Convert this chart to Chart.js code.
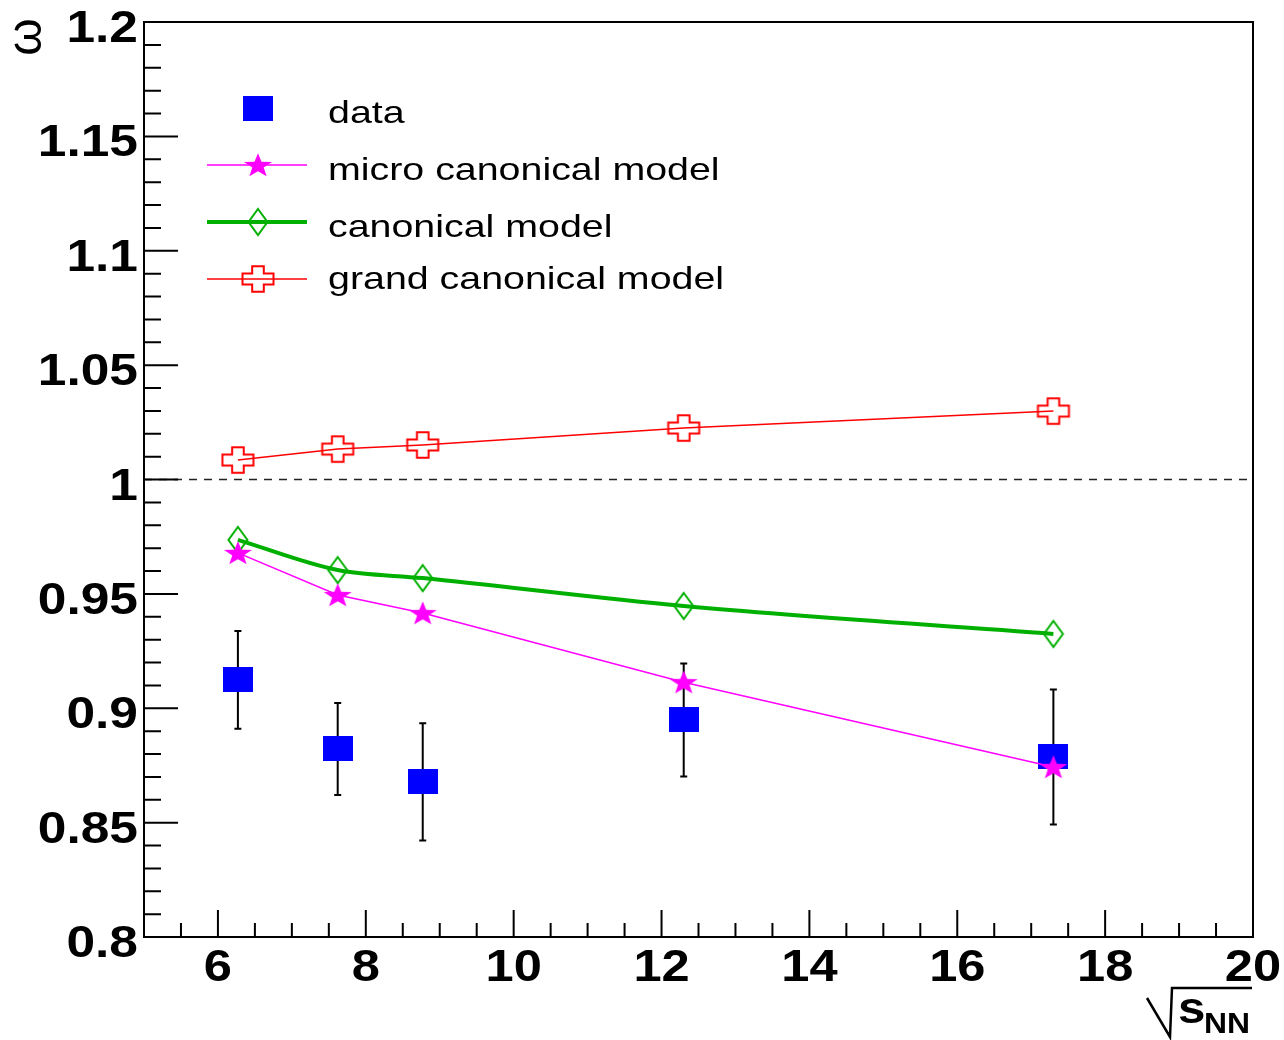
<!DOCTYPE html>
<html>
<head>
<meta charset="utf-8">
<script src="https://cdn.jsdelivr.net/npm/chart.js@4.4.0/dist/chart.umd.min.js"></script>
<style>
  html, body { margin: 0; padding: 0; background: #fff; }
  canvas { display: block; }
</style>
</head>
<body>
<canvas id="omegaChart" width="1284" height="1040"></canvas>
<script>
// ------------------------------------------------------------
// scaled variance omega vs sqrt(s_NN), data + three HRG ensembles
// ------------------------------------------------------------

const energies       = [6.27, 7.62, 8.77, 12.3, 17.3];
const dataOmega      = [0.9124, 0.8822, 0.8678, 0.8949, 0.8787];
const dataError      = [0.0214, 0.0201, 0.0256, 0.0247, 0.0295];
const microOmega     = [0.9679, 0.9495, 0.9416, 0.9114, 0.8743];
const canonicalOmega = [0.9736, 0.9604, 0.9569, 0.9447, 0.9325];
const grandOmega     = [1.0085, 1.0133, 1.0151, 1.0225, 1.0299];

const seriesLabels = ['data', 'micro canonical model', 'canonical model', 'grand canonical model'];
const xTickValues  = [6, 8, 10, 12, 14, 16, 18, 20];
const xTickLabels  = ['6', '8', '10', '12', '14', '16', '18', '20'];
const yTickValues  = [0.8, 0.85, 0.9, 0.95, 1, 1.05, 1.1, 1.15, 1.2];
const yTickLabels  = ['0.8', '0.85', '0.9', '0.95', '1', '1.05', '1.1', '1.15', '1.2'];

const BLUE    = '#0000ff';
const MAGENTA = '#ff00ff';
const GREEN   = '#00b000';
const RED     = '#ff0000';
const SX      = 1.23;   // the original text is a bit wider than plain Helvetica

// --- marker images (ROOT style) ---
function makeMarker(w, h, draw) {
  const c = document.createElement('canvas');
  c.width = w; c.height = h;
  draw(c.getContext('2d'), w, h);
  return c;
}

const squareMarker = makeMarker(30, 25, (g, w, h) => {
  g.fillStyle = BLUE;
  g.fillRect(0, 0, w, h);
});

const starMarker = makeMarker(32, 30, (g, w, h) => {
  g.translate(w / 2, h / 2 + 1);
  g.scale(1.15, 1);
  g.beginPath();
  for (let i = 0; i < 10; i++) {
    const r = i % 2 === 0 ? 12.8 : 5.2;
    const a = -Math.PI / 2 + i * Math.PI / 5;
    g.lineTo(r * Math.cos(a), r * Math.sin(a));
  }
  g.closePath();
  g.fillStyle = MAGENTA;
  g.fill();
});

const diamondMarker = makeMarker(24, 30, (g, w, h) => {
  const cx = w / 2, cy = h / 2;
  g.beginPath();
  g.moveTo(cx, cy - 13);
  g.lineTo(cx + 9.5, cy);
  g.lineTo(cx, cy + 13);
  g.lineTo(cx - 9.5, cy);
  g.closePath();
  g.strokeStyle = GREEN;
  g.lineWidth = 2;
  g.stroke();
});

const crossMarker = makeMarker(36, 30, (g, w, h) => {
  const cx = w / 2, cy = h / 2;
  const hw = 15.5, hh = 12.8, aw = 5.8, ah = 5.6;
  g.beginPath();
  g.moveTo(cx - aw, cy - hh);
  g.lineTo(cx + aw, cy - hh);
  g.lineTo(cx + aw, cy - ah);
  g.lineTo(cx + hw, cy - ah);
  g.lineTo(cx + hw, cy + ah);
  g.lineTo(cx + aw, cy + ah);
  g.lineTo(cx + aw, cy + hh);
  g.lineTo(cx - aw, cy + hh);
  g.lineTo(cx - aw, cy + ah);
  g.lineTo(cx - hw, cy + ah);
  g.lineTo(cx - hw, cy - ah);
  g.lineTo(cx - aw, cy - ah);
  g.closePath();
  g.strokeStyle = RED;
  g.lineWidth = 2;
  g.stroke();
});

function stretchText(ctx, text, x, y, align, sx) {
  ctx.save();
  ctx.translate(x, y);
  ctx.scale(sx, 1);
  ctx.textAlign = align;
  ctx.fillText(text, 0, 0);
  ctx.restore();
}

// frame, inside ticks, labels, legend, error bars
const rootFrame = {
  id: 'rootFrame',
  beforeDatasetsDraw(chart) {
    const { ctx, chartArea: a, scales: { x, y } } = chart;

    // dashed line at omega = 1
    ctx.save();
    ctx.strokeStyle = '#222';
    ctx.lineWidth = 1.5;
    ctx.setLineDash([8, 7]);
    const y1 = y.getPixelForValue(1);
    ctx.beginPath();
    ctx.moveTo(a.left, y1);
    ctx.lineTo(a.right, y1);
    ctx.stroke();
    ctx.restore();

    // error bars of the data points
    ctx.save();
    ctx.strokeStyle = '#000';
    ctx.lineWidth = 2;
    energies.forEach((e, i) => {
      const px = x.getPixelForValue(e);
      const top = y.getPixelForValue(dataOmega[i] + dataError[i]);
      const bot = y.getPixelForValue(dataOmega[i] - dataError[i]);
      ctx.beginPath();
      ctx.moveTo(px, top); ctx.lineTo(px, bot);
      ctx.moveTo(px - 3.5, top); ctx.lineTo(px + 3.5, top);
      ctx.moveTo(px - 3.5, bot); ctx.lineTo(px + 3.5, bot);
      ctx.stroke();
    });
    ctx.restore();
  },

  afterDraw(chart) {
    const { ctx, chartArea: a, scales: { x, y } } = chart;
    ctx.save();
    ctx.strokeStyle = '#000';
    ctx.fillStyle = '#000';
    ctx.lineWidth = 2;

    // frame
    ctx.strokeRect(a.left, a.top, a.right - a.left, a.bottom - a.top);

    // y ticks: major every 0.05, 5 subdivisions
    ctx.beginPath();
    yTickValues.forEach((v, i) => {
      const py = y.getPixelForValue(v);
      ctx.moveTo(a.left, py); ctx.lineTo(a.left + 34, py);
      if (i < yTickValues.length - 1) {
        const step = (yTickValues[i + 1] - v) / 5;
        for (let k = 1; k < 5; k++) {
          const pm = y.getPixelForValue(v + k * step);
          ctx.moveTo(a.left, pm); ctx.lineTo(a.left + 17, pm);
        }
      }
    });
    // x ticks: major every 2, minor every 0.5
    const allX = [x.min].concat(xTickValues);
    allX.forEach((v, i) => {
      const px = x.getPixelForValue(v);
      if (i > 0) { ctx.moveTo(px, a.bottom); ctx.lineTo(px, a.bottom - 27); }
      if (i < allX.length - 1) {
        const next = allX[i + 1];
        for (let m = v + 0.5; m < next - 1e-6; m += 0.5) {
          const pm = x.getPixelForValue(m);
          ctx.moveTo(pm, a.bottom); ctx.lineTo(pm, a.bottom - 14);
        }
      }
    });
    ctx.stroke();

    // tick labels
    ctx.font = 'bold 44px "Liberation Sans", Arial, sans-serif';
    ctx.textBaseline = 'alphabetic';
    yTickValues.forEach((v, i) => {
      stretchText(ctx, yTickLabels[i], 138, y.getPixelForValue(v) + 20, 'right', 1.17);
    });
    xTickValues.forEach((v, i) => {
      stretchText(ctx, xTickLabels[i], x.getPixelForValue(v), 981, 'center', 1.15);
    });

    // y title: omega, rotated
    ctx.save();
    ctx.font = '48px "Liberation Sans", Arial, sans-serif';
    ctx.translate(28, 37);
    ctx.rotate(-Math.PI / 2);
    ctx.textAlign = 'center';
    ctx.textBaseline = 'middle';
    ctx.fillText('ω', 0, 0);
    ctx.restore();

    // x title: sqrt(s_NN)
    ctx.lineWidth = 2.5;
    ctx.lineJoin = 'miter';
    ctx.beginPath();
    ctx.moveTo(1147, 998);
    ctx.lineTo(1170, 1037);
    ctx.lineTo(1172, 988);
    ctx.lineTo(1252, 988);
    ctx.stroke();
    ctx.font = 'bold 44px "Liberation Sans", Arial, sans-serif';
    stretchText(ctx, 's', 1178, 1023, 'left', 1.12);
    ctx.font = 'bold 29px "Liberation Sans", Arial, sans-serif';
    stretchText(ctx, 'NN', 1204, 1033, 'left', 1.1);

    // legend
    const lx0 = 207, lx1 = 307, mx = 258;
    const rows = [
      { img: squareMarker, y: 108, line: null, w: 0, base: 122.5 },
      { img: starMarker, y: 165, line: MAGENTA, w: 1.5, base: 179.5 },
      { img: diamondMarker, y: 222, line: GREEN, w: 4, base: 236.8 },
      { img: crossMarker, y: 279, line: RED, w: 1.5, base: 288.5 }
    ];
    rows.forEach((r, i) => {
      if (r.line) {
        ctx.strokeStyle = r.line;
        ctx.lineWidth = r.w;
        ctx.beginPath();
        ctx.moveTo(lx0, r.y); ctx.lineTo(lx1, r.y);
        ctx.stroke();
      }
      ctx.drawImage(r.img, mx - r.img.width / 2, r.y - r.img.height / 2);
      ctx.fillStyle = '#000';
      ctx.font = '32px "Liberation Sans", Arial, sans-serif';
      stretchText(ctx, seriesLabels[i], 328, r.base, 'left', SX);
    });

    ctx.restore();
  }
};

const toPoints = vals => energies.map((e, i) => ({ x: e, y: vals[i] }));

new Chart(document.getElementById('omegaChart'), {
  type: 'line',
  data: {
    datasets: [
      {
        label: seriesLabels[0],
        data: toPoints(dataOmega),
        showLine: false,
        pointStyle: squareMarker,
        pointRadius: 14,
        order: 4
      },
      {
        label: seriesLabels[1],
        data: toPoints(microOmega),
        borderColor: MAGENTA,
        borderWidth: 1.5,
        pointStyle: starMarker,
        pointRadius: 14,
        order: 1
      },
      {
        label: seriesLabels[2],
        data: toPoints(canonicalOmega),
        borderColor: GREEN,
        borderWidth: 4,
        cubicInterpolationMode: 'monotone',
        pointStyle: diamondMarker,
        pointRadius: 14,
        order: 2
      },
      {
        label: seriesLabels[3],
        data: toPoints(grandOmega),
        borderColor: RED,
        borderWidth: 1.5,
        pointStyle: crossMarker,
        pointRadius: 14,
        order: 3
      }
    ]
  },
  options: {
    responsive: false,
    animation: false,
    layout: { padding: { left: 144, right: 31, top: 22, bottom: 103 } },
    scales: {
      x: { type: 'linear', min: 5, max: 20, display: false },
      y: { type: 'linear', min: 0.8, max: 1.2, display: false }
    },
    plugins: {
      legend: { display: false },
      tooltip: { enabled: false }
    }
  },
  plugins: [rootFrame]
});
</script>
</body>
</html>
